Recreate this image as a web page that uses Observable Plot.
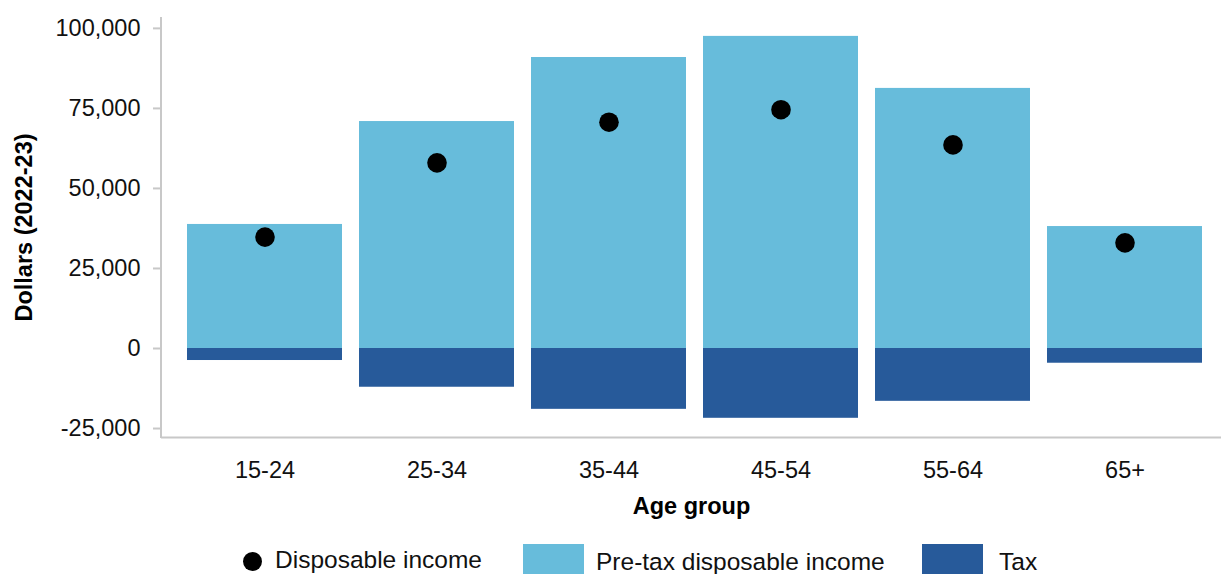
<!DOCTYPE html>
<html>
<head>
<meta charset="utf-8">
<script src="https://cdn.jsdelivr.net/npm/d3@7"></script>
<script src="https://cdn.jsdelivr.net/npm/@observablehq/plot@0.6"></script>
<style>
  html, body { margin: 0; padding: 0; background: #fff; }
  #wrap { position: relative; width: 1221px; height: 574px; overflow: hidden; font-family: "Liberation Sans", Arial, sans-serif; }
  #chart { position: absolute; left: 0; top: 0; }
  .lg { position: absolute; font-size: 24.5px; color: #111; white-space: nowrap; line-height: 1; }
</style>
</head>
<body>
<div id="wrap">
  <div id="chart"></div>
</div>
<script>
const ageGroups = ["15-24", "25-34", "35-44", "45-54", "55-64", "65+"];
const pretaxIncome = [38750, 70900, 90900, 97500, 81250, 38100];
const tax = [-3750, -12100, -19000, -21800, -16500, -4600];
const disposableIncome = [34800, 58000, 70700, 74600, 63600, 33000];
const yTicks = [-25000, 0, 25000, 50000, 75000, 100000];
const yTickLabels = ["-25,000", "0", "25,000", "50,000", "75,000", "100,000"];
const seriesNames = ["Disposable income", "Pre-tax disposable income", "Tax"];
const seriesColors = ["#000000", "#67bcdb", "#275a9a"];

const rows = ageGroups.map((g, i) => ({age: g, pretax: pretaxIncome[i], tax: tax[i], disp: disposableIncome[i]}));

const W = 1221, H = 530;
const plotTop = 17, plotBottom = 437, plotLeft = 161;
const font = "'Liberation Sans', Arial, sans-serif";

const chart = Plot.plot({
  width: W,
  height: H,
  marginTop: plotTop,
  marginBottom: H - plotBottom,
  marginLeft: plotLeft,
  marginRight: 0,
  style: {fontFamily: font, fontSize: "23.5px", color: "#111", background: "#fff", overflow: "visible"},
  x: {type: "band", domain: ageGroups, range: [187, 1202.5], paddingInner: 0.096, paddingOuter: 0, label: null},
  y: {domain: [-27800, 103400], label: null},
  marks: [
    Plot.barY(rows, {x: "age", y1: 0, y2: "pretax", fill: seriesColors[1]}),
    Plot.barY(rows, {x: "age", y1: 0, y2: "tax", fill: seriesColors[2]}),
    Plot.dot(rows, {x: "age", y: "disp", r: 9.8, fill: seriesColors[0], stroke: null}),
    Plot.ruleY([-27800], {stroke: "#c8c8c8", strokeWidth: 2}),
    Plot.axisY({ticks: yTicks, tickFormat: (d) => yTickLabels[yTicks.indexOf(d)], tickSize: 8, tickPadding: 13, stroke: "#c8c8c8", strokeWidth: 2, fill: "#111", fontSize: 23.5, label: null}),
    Plot.axisX({tickSize: 0, tickPadding: 24, fill: "#111", fontSize: 23.5, label: null}),
    Plot.text(["Age group"], {frameAnchor: "bottom", dy: 69, fontWeight: "bold", fontSize: 23.5, fill: "#000", lineAnchor: "middle", textAnchor: "middle"}),
    Plot.text(["Dollars (2022-23)"], {frameAnchor: "left", dx: -137, rotate: -90, fontWeight: "bold", fontSize: 23.5, fill: "#000", lineAnchor: "middle", textAnchor: "middle"})
  ]
});

// left axis line of the panel
d3.select(chart).append("line")
  .attr("x1", plotLeft).attr("x2", plotLeft)
  .attr("y1", plotTop).attr("y2", plotBottom + 1)
  .attr("stroke", "#c8c8c8").attr("stroke-width", 2);

document.getElementById("chart").appendChild(chart);

// legend
const wrap = document.getElementById("wrap");
const legendItems = [
  {kind: "dot", x: 243, label: seriesNames[0], tx: 275, ty: 547.5},
  {kind: "sq", x: 523, label: seriesNames[1], tx: 596, ty: 550},
  {kind: "sq", x: 922, label: seriesNames[2], tx: 999, ty: 550}
];
legendItems.forEach((it, i) => {
  const sw = document.createElement("div");
  sw.style.position = "absolute";
  if (it.kind === "dot") {
    sw.style.left = it.x + "px"; sw.style.top = "551.5px";
    sw.style.width = "19px"; sw.style.height = "19px"; sw.style.borderRadius = "50%";
  } else {
    sw.style.left = it.x + "px"; sw.style.top = "544px";
    sw.style.width = "61px"; sw.style.height = "40px";
  }
  sw.style.background = seriesColors[i];
  wrap.appendChild(sw);
  const t = document.createElement("div");
  t.className = "lg";
  t.textContent = it.label;
  t.style.left = it.tx + "px";
  t.style.top = it.ty + "px";
  wrap.appendChild(t);
});
</script>
</body>
</html>
